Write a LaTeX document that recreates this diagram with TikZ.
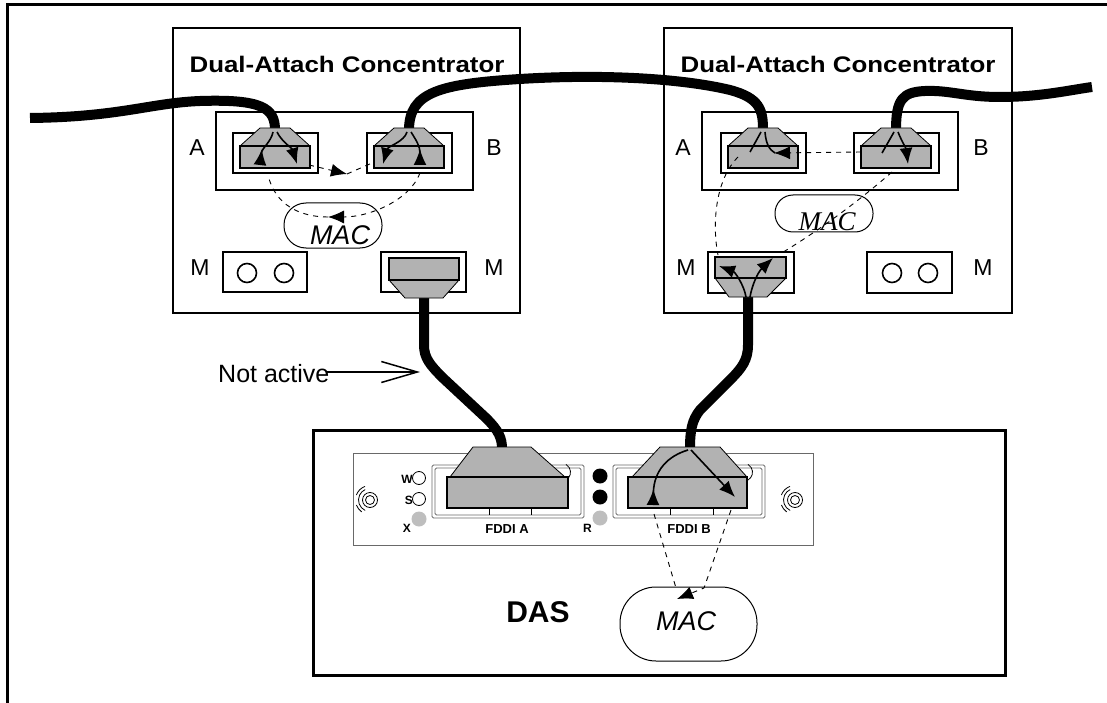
\documentclass[tikz,border=0pt]{standalone}
\usepackage{fontspec}
\setmainfont{Liberation Sans}
\newfontfamily\romanmac{Liberation Serif}
\usetikzlibrary{arrows.meta}

\definecolor{plug}{RGB}{178,178,178}
\definecolor{ledgray}{RGB}{190,190,190}
\definecolor{face}{RGB}{105,105,105}

% a port housing with a plug coming in from above (cable end at the top)
\newcommand\topplug[2]{%
  \draw[portbox] (#1-42,133) rectangle (#1+43,173);
  \draw[plughood] (#1-15,128) -- (#1+15,128) -- (#1+35,146) -- (#1-35,146) -- cycle;
  \draw[plugbody] (#1-35,146) rectangle (#1+35,168);
  \coordinate (#2) at (#1,129);
}

\begin{document}
\begin{tikzpicture}[x=1pt,y=-1pt,
  outerframe/.style={line width=3pt},
  unitbox/.style={draw, line width=2.5pt},
  portbox/.style={draw, line width=2.3pt},
  plugbody/.style={fill=plug, draw=black, line width=2pt},
  plughood/.style={fill=plug, draw=black, line width=0.8pt, line join=round},
  cable/.style={line width=10pt, line join=round},
  fiber/.style={line width=1.6pt},
  arrin/.style={-{Latex[length=16pt,width=13pt]}},
  arrout/.style={-{Latex[length=16pt,width=13pt,reversed]}},
  dsh/.style={dash pattern=on 5pt off 5pt, line width=0.9pt},
  lbl/.style={font=\fontsize{23}{23}\selectfont, anchor=base, inner sep=0pt},
  ttl/.style={font=\fontsize{22.5}{22.5}\selectfont\bfseries, anchor=base, inner sep=0pt},
  macsans/.style={font=\fontsize{27}{27}\selectfont\itshape, anchor=base, inner sep=0pt},
  macserif/.style={font=\romanmac\fontsize{27}{27}\selectfont\itshape, anchor=base, inner sep=0pt},
  ledlbl/.style={font=\fontsize{12}{12}\selectfont\bfseries, anchor=base east, inner sep=0pt},
  portlbl/.style={font=\fontsize{13}{13}\selectfont\bfseries, anchor=base, inner sep=0pt},
  stadium/.style={draw, line width=1pt},
  facepl/.style={draw=face, line width=1pt},
  slot/.style={draw=face, line width=0.8pt, rounded corners=1.5pt},
]
\useasboundingbox (0,0) rectangle (1107,703);

% page frame
\draw[outerframe] (7,703) -- (7,5) -- (1107,5);

% ---------------- concentrator housings ----------------
\draw[unitbox] (173,28) rectangle (520,313);
\draw[unitbox] (664,28) rectangle (1012,313);
\draw[unitbox] (216,112) rectangle (473,190);
\draw[unitbox] (702,112) rectangle (958,190);

\node[ttl] (t1) at (347,73) {\scalebox{1.15}[1]{Dual-Attach Concentrator}};
\node[ttl] (t2) at (838,73) {\scalebox{1.15}[1]{Dual-Attach Concentrator}};

\node[lbl] (la1) at (197,156) {A};
\node[lbl] (lb1) at (494,156) {B};
\node[lbl] (lm1) at (200,275) {M};
\node[lbl] (lm2) at (494,275) {M};
\node[lbl] (la2) at (683,156) {A};
\node[lbl] (lb2) at (981,156) {B};
\node[lbl] (lm3) at (686,275) {M};
\node[lbl] (lm4) at (983,275) {M};

% empty M ports
\draw[portbox] (223,252) rectangle (307,292);
\draw[line width=1.6pt] (247,273) circle (9.5) (284,273) circle (9.5);
\draw[portbox] (867,252) rectangle (952,293);
\draw[line width=1.6pt] (892,273) circle (9.5) (928,273) circle (9.5);

% ---------------- DAS ----------------
\draw[unitbox, line width=3pt] (313,430) rectangle (1005,675);
\draw[facepl] (353,453) rectangle (813,545);

% screws
\foreach \sx in {370,795}{
  \draw[line width=0.8pt] (\sx,500) circle (4.5) (\sx,500) circle (7.5);
  \draw[line width=0.8pt] (\sx,500) ++(115:11.5) arc (115:245:11.5);
  \draw[line width=0.8pt] (\sx,500) ++(200:14.5) arc (200:250:14.5);
  \draw[line width=0.8pt] (\sx,500) ++(125:14.5) arc (125:160:14.5);
}

% status lamps
\draw[line width=0.8pt] (419,478) circle (6.5);
\draw[line width=0.8pt] (419,499) circle (6.5);
\fill[ledgray] (419,519) circle (7.5);
\node[ledlbl] (lw) at (413,483) {W};
\node[ledlbl] (ls) at (413,504) {S};
\node[ledlbl] (lx) at (411,532) {X};
\fill (600,476) circle (7.5);
\fill (600,497) circle (7.5);
\fill[ledgray] (600,518) circle (7.5);
\node[ledlbl] (lr) at (592,532) {R};

% FDDI slots
\foreach \a/\b in {432/584, 613/765}{
  \draw[slot] (\a,465) rectangle (\b,518);
  \draw[slot] (\a+3,468) rectangle (\b-3,515);
}
\draw[line width=0.6pt] (489,508) -- (489,515) (531,508) -- (531,515);
\draw[line width=0.6pt] (670,508) -- (670,515) (713,508) -- (713,515);
\draw[line width=0.8pt] (566,480) arc (60:-60:9);
\draw[line width=0.8pt] (748,480) arc (60:-60:9);
\node[portlbl] (fa) at (507,533) {FDDI A};
\node[portlbl] (fb) at (689,533) {FDDI B};

\node[font=\fontsize{30}{30}\selectfont\bfseries, anchor=base, inner sep=0pt] (das) at (538,622) {DAS};

% MAC stadiums
\draw[stadium, rounded corners=36pt] (620,587) rectangle (757,661);
\node[macsans] (mac3) at (686,630) {MAC};
\draw[stadium, rounded corners=22pt] (284,203) rectangle (382,248);
\node[macsans] (mac1) at (340,244) {MAC};
\draw[stadium, rounded corners=18pt] (775,195) rectangle (873,232);
\node[macserif] (mac2) at (827,230) {MAC};

% ---------------- cables ----------------
\coordinate (wl) at (30,118);
\coordinate (wr) at (1092,87);
\coordinate (LA) at (275,130);
\coordinate (LB) at (409,130);
\coordinate (RA) at (763,130);
\coordinate (RB) at (896,130);
\coordinate (LM) at (424,296);
\coordinate (RM) at (748,296);
\coordinate (DA) at (502,449);
\coordinate (DB) at (690,449);

\draw[cable] (wl) .. controls (120,117) and (150,103) .. (200,101)
   .. controls (262,99) and (275,108) .. (LA);
\draw[cable] (LB) .. controls (409,92) and (440,84) .. (520,79)
   .. controls (600,74) and (680,78) .. (730,90)
   .. controls (760,98) and (763,110) .. (RA);
\draw[cable] (RB) .. controls (896,100) and (902,92) .. (925,91)
   .. controls (950,90) and (965,97) .. (1000,97)
   .. controls (1040,97) and (1070,90) .. (wr);
\draw[cable] (LM) -- (424,345) .. controls (424,358) and (430,365) .. (443,378)
   -- (486,418) .. controls (499,431) and (502,438) .. (DA);
\draw[cable] (RM) -- (748,345) .. controls (748,360) and (742,368) .. (730,380)
   -- (700,410) .. controls (692,420) and (690,430) .. (DB);

% ---------------- plugs ----------------
\topplug{275}{pLA}
\topplug{409}{pLB}
\topplug{763}{pRA}
\topplug{896}{pRB}

% M plugs (cable leaves downwards)
\draw[portbox] (381,252) rectangle (466,292);
\draw[plughood] (389,280) -- (459,280) -- (443,298) -- (405,298) -- cycle;
\draw[plugbody] (389,258) rectangle (459,280);
\draw[portbox] (708,252) rectangle (794,293);
\draw[plughood] (715,278) -- (786,278) -- (767,297) -- (729,297) -- cycle;
\draw[plugbody] (715,257) rectangle (786,278);

% DAS plugs
\draw[plughood] (473,447) -- (531,447) -- (565,477) -- (450,477) -- cycle;
\draw[plugbody, line width=2.5pt] (447,477) rectangle (568,508);
\draw[plughood] (660,447) -- (720,447) -- (747,477) -- (632,477) -- cycle;
\draw[plugbody, line width=2.5pt] (628,477) rectangle (747,508);

% ---------------- signal paths ----------------
% left concentrator
\draw[fiber, arrout] (273,132) .. controls (271,142) and (262,148) .. (260,165);
\draw[fiber, arrin] (277,132) .. controls (282,142) and (292,148) .. (297,164);
\draw[fiber, arrin] (407,132) .. controls (404,142) and (388,146) .. (383,164);
\draw[fiber, arrout] (411,132) .. controls (416,140) and (420,146) .. (420,165);
\draw[dsh, arrin] (309,165) -- (347,174);
\draw[dsh] (347,174) -- (372,163);
\draw[dsh, arrin] (420,173) .. controls (410,200) and (370,217) .. (328,217);
\draw[dsh] (328,217) .. controls (300,217) and (275,205) .. (268,175);

% right concentrator
\draw[fiber] (761,132) -- (750,152);
\draw[fiber] (765,132) .. controls (766,145) and (770,150) .. (775,153);
\draw[dsh, arrin] (861,152) -- (774,153);
\draw[fiber] (894,132) -- (882,153);
\draw[fiber, arrin] (898,132) .. controls (902,142) and (906,148) .. (908,164);
\draw[dsh] (738,157) .. controls (715,180) and (712,225) .. (718,255);
\draw[dsh] (892,172) .. controls (860,200) and (820,230) .. (780,254);
\draw[fiber, arrin] (746,297) .. controls (744,285) and (735,272) .. (719,266);
\draw[fiber, arrin] (750,297) .. controls (752,285) and (758,272) .. (773,258);

% DAS
\draw[fiber, arrout] (688,450) .. controls (668,456) and (654,470) .. (653,505);
\draw[fiber, arrin] (691,450) -- (735,497);
\draw[dsh, arrin] (731,510) -- (704,588) -- (677,599);
\draw[dsh] (654,514) -- (676,588);

% annotation
\node[font=\fontsize{25}{25}\selectfont, anchor=base west, inner sep=0pt] (na) at (218,382) {Not active};
\coordinate (naend) at (420,372);
\draw[line width=1.5pt, -{Straight Barb[length=36pt,width=21pt,line width=1.5pt]}] ([xshift=-4pt]na.east |- naend) -- (naend);

\end{tikzpicture}
\end{document}
